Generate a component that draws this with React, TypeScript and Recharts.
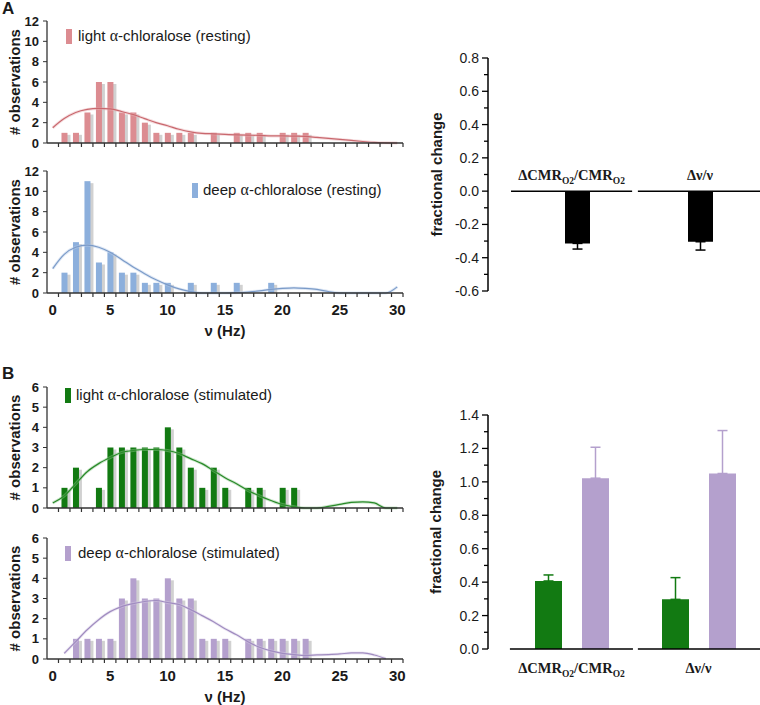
import { ComposedChart, BarChart, Bar, Line, XAxis, YAxis, ErrorBar, ReferenceLine } from 'recharts';

// frequency bins (Hz)
const HZ = [0, 1, 2, 3, 4, 5, 6, 7, 8, 9, 10, 11, 12, 13, 14, 15, 16, 17, 18, 19, 20, 21, 22, 23, 24, 25, 26, 27, 28, 29, 30];

// A: resting
const lightRestCounts = [0, 1, 1, 3, 6, 6, 3, 3, 2, 1, 1, 1, 1, 0, 1, 0, 1, 1, 1, 0, 1, 1, 1, 0, 0, 0, 0, 0, 0, 0, 0];
const lightRestFit = [1.5, 2.4, 3.0, 3.3, 3.4, 3.35, 3.1, 2.8, 2.4, 2.0, 1.7, 1.35, 1.1, 0.95, 0.9, 0.85, 0.8, 0.77, 0.75, 0.7, 0.7, 0.68, 0.65, 0.55, 0.45, 0.35, 0.25, 0.15, 0.06, 0.02, 0];
const deepRestCounts = [0, 2, 5, 11, 3, 4, 2, 2, 1, 1, 1, 0, 1, 0, 1, 0, 1, 0, 0, 1, 0, 0, 0, 0, 0, 0, 0, 0, 0, 0, 0];
const deepRestFit = [2.4, 3.8, 4.5, 4.7, 4.5, 4.0, 3.3, 2.55, 1.9, 1.3, 0.8, 0.4, 0.13, 0, 0, 0, 0.03, 0.1, 0.2, 0.35, 0.45, 0.5, 0.45, 0.35, 0.15, 0, 0, 0, 0, 0, 0.6];

// B: stimulated
const lightStimCounts = [0, 1, 2, 0, 1, 3, 3, 3, 3, 3, 4, 3, 2, 1, 2, 1, 0, 1, 1, 0, 1, 1, 0, 0, 0, 0, 0, 0, 0, 0, 0];
const lightStimFit = [0.25, 0.6, 1.2, 1.8, 2.2, 2.5, 2.75, 2.85, 2.9, 2.9, 2.85, 2.7, 2.45, 2.2, 1.85, 1.5, 1.2, 0.87, 0.6, 0.37, 0.17, 0.06, 0, 0, 0.08, 0.18, 0.28, 0.3, 0.25, 0, 0];
const deepStimCounts = [0, 0, 1, 1, 1, 1, 3, 4, 3, 3, 4, 3, 3, 1, 1, 1, 0, 1, 1, 1, 1, 1, 1, 0, 0, 0, 0, 0, 0, 0, 0];
const deepStimFit = [null, 0.28, 0.86, 1.45, 1.95, 2.35, 2.6, 2.75, 2.85, 2.9, 2.8, 2.7, 2.45, 2.15, 1.85, 1.5, 1.2, 0.86, 0.58, 0.4, 0.28, 0.22, 0.18, 0.2, 0.22, 0.25, 0.3, 0.3, 0.2, 0.02, null];

const HZ_EDGE_TICKS = [0.5, 1.5, 2.5, 3.5, 4.5, 5.5, 6.5, 7.5, 8.5, 9.5, 10.5, 11.5, 12.5, 13.5, 14.5, 15.5, 16.5, 17.5, 18.5, 19.5, 20.5, 21.5, 22.5, 23.5, 24.5, 25.5, 26.5, 27.5, 28.5, 29.5, 30.5];
const HZ_LABELS = [0, 5, 10, 15, 20, 25, 30];
const REST_Y_TICKS = [0, 2, 4, 6, 8, 10, 12];
const STIM_Y_TICKS = [0, 1, 2, 3, 4, 5, 6];

// fractional changes
const CATEGORIES = ['ΔCMRO2/CMRO2', 'Δν/ν'];
const restChange = [-0.314, -0.304];
const restErr = [0.034, 0.05];
const lightStimChange = [0.407, 0.297];
const lightStimErr = [0.036, 0.13];
const deepStimChange = [1.022, 1.05];
const deepStimErr = [0.185, 0.257];
const FRAC_TICKS_A = [-0.6, -0.5, -0.4, -0.3, -0.2, -0.1, 0, 0.1, 0.2, 0.3, 0.4, 0.5, 0.6, 0.7, 0.8];
const FRAC_TICKS_B = [0, 0.1, 0.2, 0.3, 0.4, 0.5, 0.6, 0.7, 0.8, 0.9, 1.0, 1.1, 1.2, 1.3, 1.4];

const LEGENDS = [
  'light α-chloralose (resting)',
  'deep α-chloralose (resting)',
  'light α-chloralose (stimulated)',
  'deep α-chloralose (stimulated)',
];

const PINK = '#dc8c91';
const BLUE = '#8cafdc';
const GREEN = '#127a12';
const PURPLE = '#b4a0cd';
const INK = '#1a1a1a';

const histRows = (counts: number[], fit: (number | null)[]) =>
  HZ.map((hz, i) => ({ hz, count: counts[i], fit: fit[i] }));

const restRows = CATEGORIES.map((cat, i) => ({ cat, value: restChange[i], err: [restErr[i], 0] }));
const stimRows = CATEGORIES.map((cat, i) => ({
  cat,
  light: lightStimChange[i],
  lightErr: [0, lightStimErr[i]],
  deep: deepStimChange[i],
  deepErr: [0, deepStimErr[i]],
}));

function shadowBar(color: string) {
  return (props: any) => {
    const { x, y, width, height } = props;
    if (!height || height <= 0 || isNaN(y)) return <g />;
    return (
      <g>
        <rect x={x + 3} y={y + 2} width={width} height={Math.max(height - 2, 0)} fill="#9a9a9a" fillOpacity={0.45} />
        <rect x={x} y={y} width={width} height={height} fill={color} />
      </g>
    );
  };
}

function VLabel({ viewBox, text, cx }: any) {
  const cy = viewBox.y + viewBox.height / 2;
  return (
    <text x={cx} y={cy} transform={`rotate(-90 ${cx} ${cy})`} textAnchor="middle" dominantBaseline="central"
      fontSize={15} fontWeight={700} fill={INK}>
      {text}
    </text>
  );
}

function HzTick({ x, y, payload, showLabels }: any) {
  const v = payload.value;
  if (v % 1 !== 0) return <line x1={x} x2={x} y1={y} y2={y + 4} stroke="#333" strokeWidth={1.2} />;
  if (!showLabels) return <g />;
  return (
    <text x={x} y={y + 22} textAnchor="middle" fontSize={15} fontWeight={700} fill={INK}>{v}</text>
  );
}

function Histogram({ top, counts, fit, color, lineColor, shadowColor, yMax, yTicks, showLabels }: any) {
  const xh = showLabels ? 48 : 10;
  const bottom = showLabels ? 5 : 7;
  const plotH = yMax === 12 ? 122 : 121;
  return (
    <div style={{ position: 'absolute', left: 0, top }}>
      <ComposedChart width={410} height={21 + plotH + xh + bottom} data={histRows(counts, fit)}
        margin={{ top: 21, right: 7, bottom, left: 0 }}>
        <XAxis dataKey="hz" type="number" domain={[-0.5, 30.5]} ticks={[...HZ_EDGE_TICKS, ...(showLabels ? HZ_LABELS : [])]}
          interval={0} tickSize={0} tickMargin={0} tickLine={false} height={xh}
          axisLine={{ stroke: '#333', strokeWidth: 1.3 }}
          tick={(p: any) => <HzTick {...p} showLabels={showLabels} />}
          label={showLabels ? { value: 'ν (Hz)', position: 'insideBottom', offset: 5, fontSize: 15, fontWeight: 700, fill: INK } : undefined} />
        <YAxis type="number" domain={[0, yMax]} ticks={yTicks} interval={0} width={47} tickSize={4} tickMargin={4}
          axisLine={{ stroke: '#333', strokeWidth: 1.3 }} tickLine={{ stroke: '#333' }}
          tick={{ fill: INK, fontSize: 13, fontWeight: 700 }}
          label={<VLabel text="# observations" cx={14} />} />
        <Bar dataKey="count" barSize={6} shape={shadowBar(color)} isAnimationActive={false} />
        <Line dataKey="fit" type="monotone" stroke={shadowColor} strokeWidth={3} strokeOpacity={0.45} dot={false} isAnimationActive={false} />
        <Line dataKey="fit" type="monotone" stroke={lineColor} strokeWidth={1.2} dot={false} isAnimationActive={false} />
      </ComposedChart>
    </div>
  );
}

function SubText({ x, y, text }: any) {
  const parts = text.split('O2');
  const kids: any[] = [];
  parts.forEach((p: string, i: number) => {
    if (p) kids.push(<tspan key={'p' + i} dy={i > 0 ? -4 : 0}>{p}</tspan>);
    if (i < parts.length - 1) kids.push(<tspan key={'s' + i} fontSize={9.5} dy={4}>O2</tspan>);
  });
  return (
    <text x={x} y={y} textAnchor="middle" fontFamily='"Liberation Serif", "Times New Roman", serif'
      fontSize={14.5} fontWeight={700} fill={INK}>
      {kids}
    </text>
  );
}

function SegLabel({ viewBox, text }: any) {
  return <SubText x={viewBox.x + viewBox.width / 2} y={viewBox.y - 11} text={text} />;
}

function FracTick({ x, y, payload }: any) {
  const v = payload.value;
  const major = Math.round(v * 10) % 2 === 0;
  return (
    <g>
      <line x1={x - (major ? 6 : 4)} x2={x} y1={y} y2={y} stroke="#000" strokeWidth={1.3} />
      {major && (
        <text x={x - 9} y={y} dy="0.36em" textAnchor="end" fontSize={14} fill={INK}>{v.toFixed(1)}</text>
      )}
    </g>
  );
}

function SwatchLegend({ left, top, color, label, gap }: any) {
  const [pre, post] = label.split('α');
  return (
    <div style={{ position: 'absolute', left, top, display: 'flex', alignItems: 'center', fontSize: 15, color: INK, whiteSpace: 'nowrap' }}>
      <span style={{ display: 'inline-block', width: 6, height: 15, background: color, marginRight: gap }} />
      <span>
        {pre}
        <span style={{ fontFamily: '"Liberation Serif", serif', fontSize: 16 }}>α</span>
        {post}
      </span>
    </div>
  );
}

export default function App() {
  return (
    <div style={{ position: 'absolute', left: 0, top: 0, width: 760, height: 705, overflow: 'hidden', background: '#fff',
      fontFamily: '"Liberation Sans", Arial, Helvetica, sans-serif' }}>
      <Histogram top={0} counts={lightRestCounts} fit={lightRestFit} color={PINK} lineColor="#c9686e" shadowColor="#e8b4b7"
        yMax={12} yTicks={REST_Y_TICKS} showLabels={false} />
      <Histogram top={150} counts={deepRestCounts} fit={deepRestFit} color={BLUE} lineColor="#7b9bc8" shadowColor="#b9cde8"
        yMax={12} yTicks={REST_Y_TICKS} showLabels />
      <Histogram top={366} counts={lightStimCounts} fit={lightStimFit} color={GREEN} lineColor="#2a8a2a" shadowColor="#8fc78f"
        yMax={6} yTicks={STIM_Y_TICKS} showLabels={false} />
      <Histogram top={517} counts={deepStimCounts} fit={deepStimFit} color={PURPLE} lineColor="#a08cc0" shadowColor="#d5c9e5"
        yMax={6} yTicks={STIM_Y_TICKS} showLabels />

      {/* A, right: resting change */}
      <div style={{ position: 'absolute', left: 400, top: 40 }}>
        <BarChart width={370} height={261} data={restRows} margin={{ top: 18, right: 8, bottom: 10, left: 0 }}>
          <XAxis dataKey="cat" hide padding={{ left: 28, right: 0 }} />
          <XAxis xAxisId="seg" type="number" domain={[0, 1]} hide allowDataOverflow />
          <YAxis type="number" domain={[-0.6, 0.8]} ticks={FRAC_TICKS_A} interval={0} width={88} tickSize={0} tickMargin={0}
            tickLine={false} axisLine={{ stroke: '#000', strokeWidth: 1.5 }} tick={(p: any) => <FracTick {...p} />}
            label={<VLabel text="fractional change" cx={36} />} />
          <Bar dataKey="value" fill="#000" barSize={25} isAnimationActive={false}>
            <ErrorBar dataKey="err" width={5} stroke="#000" strokeWidth={1.5} />
          </Bar>
          <ReferenceLine xAxisId="seg" segment={[{ x: 0.084, y: 0 }, { x: 0.526, y: 0 }]} stroke="#000" strokeWidth={1.5}
            label={<SegLabel text={CATEGORIES[0]} />} />
          <ReferenceLine xAxisId="seg" segment={[{ x: 0.547, y: 0 }, { x: 1, y: 0 }]} stroke="#000" strokeWidth={1.5}
            label={<SegLabel text={CATEGORIES[1]} />} />
        </BarChart>
      </div>

      {/* B, right: stimulated change */}
      <div style={{ position: 'absolute', left: 400, top: 397 }}>
        <BarChart width={370} height={292} data={stimRows} margin={{ top: 18, right: 8, bottom: 5, left: 0 }} barGap={20}>
          <XAxis dataKey="cat" height={35} padding={{ left: 20, right: 0 }} axisLine={false} tickLine={false}
            tickSize={0} tickMargin={0} interval={0}
            tick={(p: any) => <SubText x={p.x} y={p.y + 24} text={p.payload.value} />} />
          <XAxis xAxisId="seg" type="number" domain={[0, 1]} hide allowDataOverflow />
          <YAxis type="number" domain={[0, 1.4]} ticks={FRAC_TICKS_B} interval={0} width={88} tickSize={0} tickMargin={0}
            tickLine={false} axisLine={{ stroke: '#000', strokeWidth: 1.5 }} tick={(p: any) => <FracTick {...p} />}
            label={<VLabel text="fractional change" cx={35} />} />
          <Bar dataKey="light" fill={GREEN} barSize={27} isAnimationActive={false}>
            <ErrorBar dataKey="lightErr" width={5} stroke={GREEN} strokeWidth={1.5} />
          </Bar>
          <Bar dataKey="deep" fill={PURPLE} barSize={27} isAnimationActive={false}>
            <ErrorBar dataKey="deepErr" width={5} stroke={PURPLE} strokeWidth={1.5} />
          </Bar>
          <ReferenceLine xAxisId="seg" segment={[{ x: 0.08, y: 0 }, { x: 0.529, y: 0 }]} stroke="#000" strokeWidth={1.5} />
          <ReferenceLine xAxisId="seg" segment={[{ x: 0.547, y: 0 }, { x: 1, y: 0 }]} stroke="#000" strokeWidth={1.5} />
        </BarChart>
      </div>

      <SwatchLegend left={66} top={27} color={PINK} label={LEGENDS[0]} gap={6} />
      <SwatchLegend left={192} top={181} color={BLUE} label={LEGENDS[1]} gap={5} />
      <SwatchLegend left={65} top={386} color={GREEN} label={LEGENDS[2]} gap={5} />
      <SwatchLegend left={65} top={544} color={PURPLE} label={LEGENDS[3]} gap={7} />

      <div style={{ position: 'absolute', left: 2, top: -1, fontSize: 17, fontWeight: 700, color: INK }}>A</div>
      <div style={{ position: 'absolute', left: 2, top: 364, fontSize: 17, fontWeight: 700, color: INK }}>B</div>
    </div>
  );
}
